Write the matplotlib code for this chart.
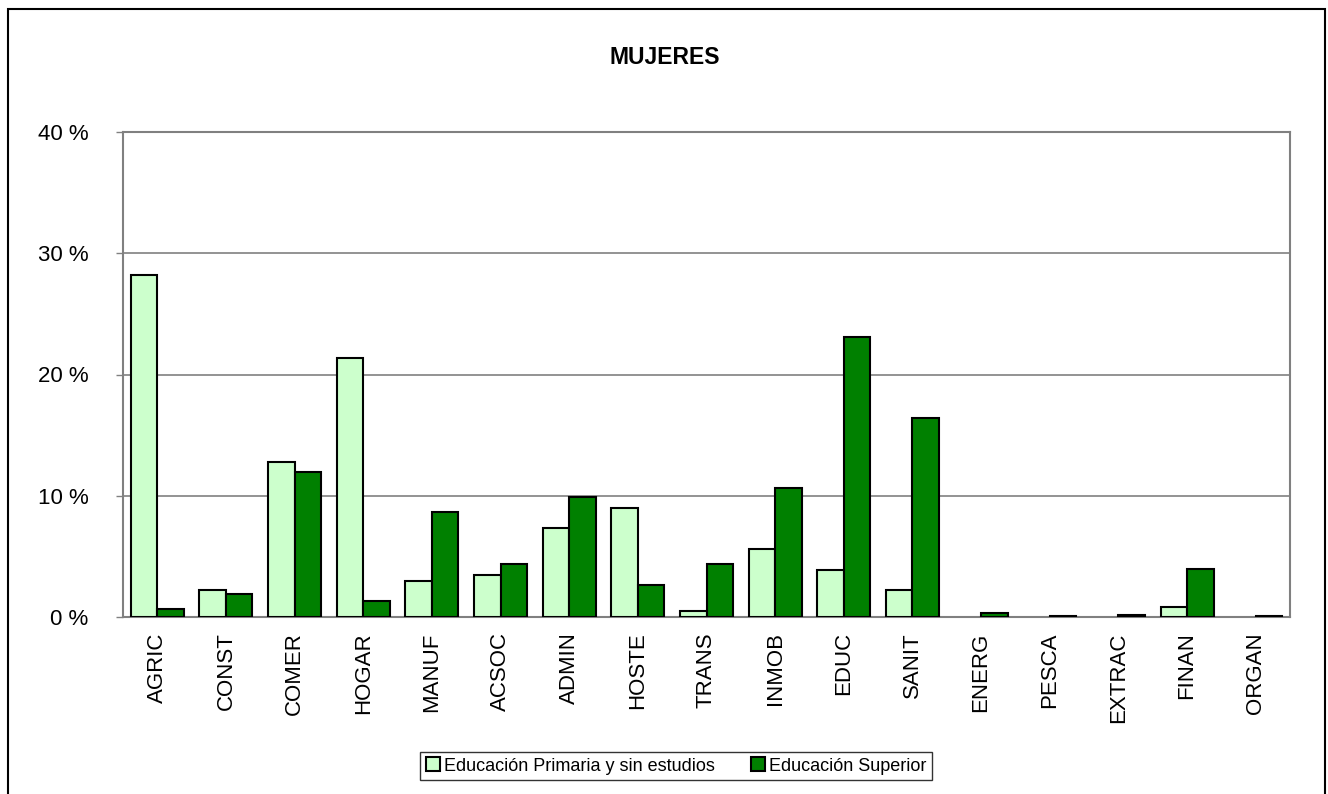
import matplotlib
matplotlib.use("Agg")
import matplotlib.pyplot as plt
from matplotlib.patches import Rectangle
import numpy as np

plt.rcParams['font.family'] = ['Liberation Sans', 'DejaVu Sans']

sectores = ['AGRIC', 'CONST', 'COMER', 'HOGAR', 'MANUF', 'ACSOC', 'ADMIN', 'HOSTE',
            'TRANS', 'INMOB', 'EDUC', 'SANIT', 'ENERG', 'PESCA', 'EXTRAC', 'FINAN', 'ORGAN']
primaria = [28.2, 2.2, 12.8, 21.4, 3.0, 3.5, 7.3, 9.0, 0.5, 5.6, 3.9, 2.2, 0.0, 0.0, 0.0, 0.85, 0.0]
superior = [0.7, 1.9, 12.0, 1.3, 8.7, 4.4, 9.9, 2.6, 4.4, 10.6, 23.1, 16.4, 0.3, 0.1, 0.15, 3.95, 0.07]
etiquetas = ['Educación Primaria y sin estudios', 'Educación Superior']
titulo = 'MUJERES'

W, H = 1328, 794
fig = plt.figure(figsize=(W / 100, H / 100), dpi=100)
ax = fig.add_axes([123 / W, 1 - 617 / H, (1290 - 123) / W, (617 - 132) / H])

x = np.arange(len(sectores))
w = 0.386
# las barras con valor 0 no se dibujan con borde
bordes_p = ['black' if v > 0 else 'none' for v in primaria]
bordes_s = ['black' if v > 0 else 'none' for v in superior]
ax.bar(x - w / 2, primaria, w, color='#CCFFCC', edgecolor=bordes_p, linewidth=1.5,
       label=etiquetas[0], zorder=3)
ax.bar(x + w / 2, superior, w, color='#008000', edgecolor=bordes_s, linewidth=1.5,
       label=etiquetas[1], zorder=3)

ax.set_xlim(-0.5, len(sectores) - 0.5)
ax.set_ylim(0, 40)
ax.set_yticks([0, 10, 20, 30, 40])
ax.set_yticklabels(['0 %', '10 %', '20 %', '30 %', '40 %'], fontsize=16)
ax.yaxis.grid(True, color='#808080', linewidth=1.2, zorder=0)
ax.set_xticks(x)
ax.set_xticklabels(sectores, rotation=90, fontsize=16, va='top')
ax.tick_params(axis='x', length=0, pad=11)
ax.tick_params(axis='y', length=5, width=1, color='#808080', pad=20)
for s in ax.spines.values():
    s.set_color('#808080')
    s.set_linewidth(1.5)

fig.text(665 / W, 1 - 57 / H, titulo, ha='center', va='center', fontsize=16.5, fontweight='bold')

leg = fig.legend(handles=ax.containers, labels=etiquetas, loc='center',
                 bbox_to_anchor=(676 / W, 1 - 766 / H), ncol=2, fontsize=13,
                 frameon=True, fancybox=False, edgecolor='black', handlelength=0.8,
                 handleheight=0.8, handletextpad=0.2, columnspacing=2.0, borderpad=0.3)
leg.get_frame().set_linewidth(1.0)
for h in leg.legend_handles:
    h.set_edgecolor('black')

# marco exterior del grafico
fig.patches.append(Rectangle((8 / W, -0.05), (1325 - 8) / W, 1.05 - 9 / H,
                             transform=fig.transFigure, fill=False,
                             edgecolor='black', linewidth=1.5))

fig.savefig('out.png', dpi=100)
